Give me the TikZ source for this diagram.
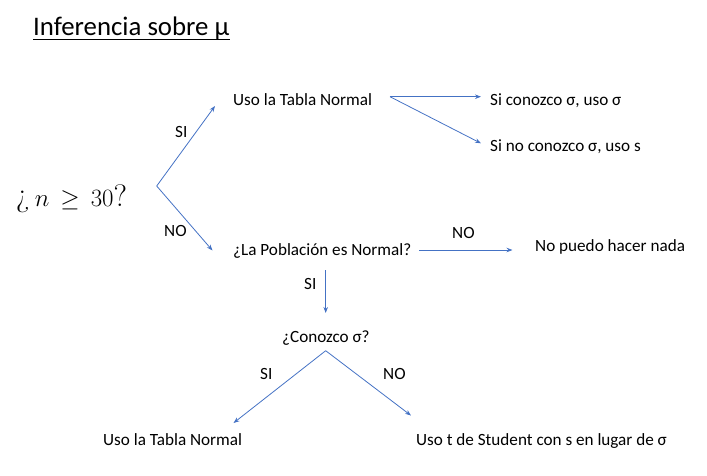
\documentclass[tikz,border=0pt]{standalone}
\usepackage{fontspec}
\setsansfont{Carlito}
\usetikzlibrary{arrows.meta}
\definecolor{arrblue}{HTML}{4472C4}
\tikzset{
  lbl/.style={font=\sffamily\fontsize{17.15}{20}\selectfont, inner sep=0pt, anchor=base west},
  arr/.style={draw=arrblue, line width=0.8pt, -{Stealth[length=6pt,width=4.5pt]}},
}
\begin{document}
\begin{tikzpicture}[x=1pt,y=-1pt]
\useasboundingbox (0,0) rectangle (707,475);
% title
\node[lbl, font=\sffamily\fontsize{26.8}{30}\selectfont] (title) at (33,35) {Inferencia sobre μ};
\draw[line width=1.6pt] (33,39.5) -- (title.base east |- 0,39.5);
% main question
\node[inner sep=0pt, anchor=base west, font=\fontsize{31}{34}\selectfont] (q) at (16,206.7) {¿\,$n \,\geq\, 30$?};
% nodes
\node[lbl] (tn1) at (233,105.5) {Uso la Tabla Normal};
\node[lbl] (pob) at (233,255) {¿La Población es Normal?};
\node[lbl] (sic) at (490,105) {Si conozco σ, uso σ};
\node[lbl] (sinc) at (490,151.5) {Si no conozco σ, uso s};
\node[lbl] (nada) at (535,251.5) {No puedo hacer nada};
\node[lbl] (con) at (282,342) {¿Conozco σ?};
\node[lbl] (tn2) at (103,445.7) {Uso la Tabla Normal};
\node[lbl] (tst) at (416,445.7) {Uso t de Student con s en lugar de σ};
% coordinates
\coordinate (qs) at (156.7,186);
\coordinate (qsiE) at (215,106);
\coordinate (qnoE) at (212.5,250.5);
\coordinate (tnS) at (390,96.7);
\coordinate (sicE) at (481,96.7);
\coordinate (sincE) at (481,143.3);
\coordinate (pobS) at (419,250);
\coordinate (nadaE) at (512.5,250);
\coordinate (pobD) at (325.7,270);
\coordinate (conE) at (325.7,313);
\coordinate (conS) at (325.7,350.7);
\coordinate (tn2E) at (233.5,423);
\coordinate (tstE) at (411,415.5);
% connectors
\draw[arr] (qs) -- (qsiE);
\draw[arr] (qs) -- (qnoE);
\draw[arr] (tnS) -- (sicE);
\draw[arr] (tnS) -- (sincE);
\draw[arr] (pobS) -- (nadaE);
\draw[arr] (pobD) -- (conE);
\draw[arr] (conS) -- (tn2E);
\draw[arr] (conS) -- (tstE);
% edge labels
\node[lbl] (l1) at (175,137) {SI};
\node[lbl] (l2) at (164,236.7) {NO};
\node[lbl] (l3) at (452,238) {NO};
\node[lbl] (l4) at (304,289) {SI};
\node[lbl] (l5) at (260,379) {SI};
\node[lbl] (l6) at (383,379) {NO};
\end{tikzpicture}
\end{document}
